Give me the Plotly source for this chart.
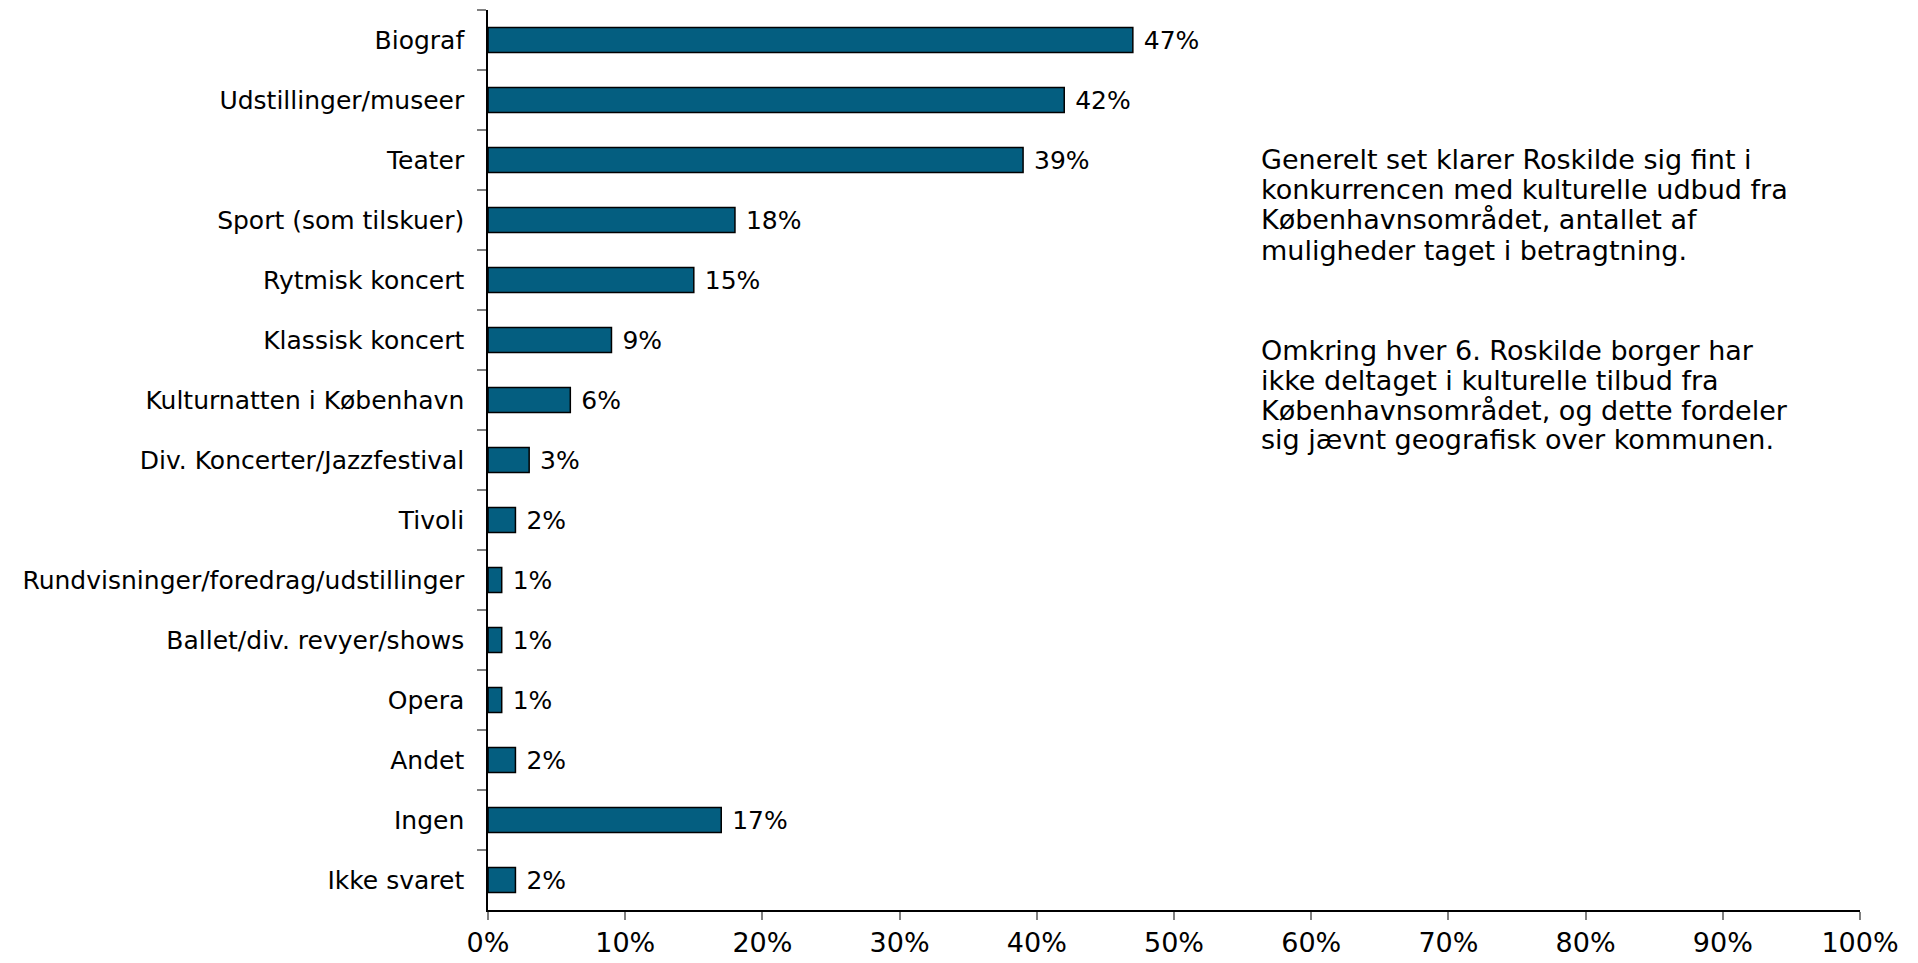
import plotly.graph_objects as go

# Survey answers (share of respondents, %)
categories = [
    "Biograf", "Udstillinger/museer", "Teater", "Sport (som tilskuer)",
    "Rytmisk koncert", "Klassisk koncert", "Kulturnatten i København",
    "Div. Koncerter/Jazzfestival", "Tivoli", "Rundvisninger/foredrag/udstillinger",
    "Ballet/div. revyer/shows", "Opera", "Andet", "Ingen", "Ikke svaret",
]
values = [47, 42, 39, 18, 15, 9, 6, 3, 2, 1, 1, 1, 2, 17, 2]
x_ticks = list(range(0, 101, 10))

note_lines_1 = [
    "Generelt set klarer Roskilde sig fint i",
    "konkurrencen med kulturelle udbud fra",
    "Københavnsområdet, antallet af",
    "muligheder taget i betragtning.",
]
note_lines_2 = [
    "Omkring hver 6. Roskilde borger har",
    "ikke deltaget i kulturelle tilbud fra",
    "Københavnsområdet, og dette fordeler",
    "sig jævnt geografisk over kommunen.",
]

FONT = "Verdana, DejaVu Sans, sans-serif"

fig = go.Figure()
fig.add_trace(go.Bar(
    x=values,
    y=categories,
    orientation="h",
    marker=dict(color="#045e80", line=dict(color="black", width=1.5)),
    text=[f" {v}%" for v in values],
    textposition="outside",
    constraintext="none",
    textfont=dict(size=25, color="black", family=FONT),
    cliponaxis=False,
    width=0.42,
))

# text block on the right, one annotation per line (Excel-like line spacing)
annotations = []
for i, line in enumerate(note_lines_1):
    annotations.append(dict(text=line, x=0.562, y=(910 - (160 + 30 * i)) / 900))
for i, line in enumerate(note_lines_2):
    annotations.append(dict(text=line, x=0.562, y=(910 - (350 + 30 * i)) / 900))
for a in annotations:
    a.update(xref="paper", yref="paper", xanchor="left", yanchor="middle",
             showarrow=False, font=dict(size=27, family=FONT, color="black"))

# page body has an 8px margin, so margins are shifted by that amount
fig.update_layout(
    width=1918, height=963,
    plot_bgcolor="white", paper_bgcolor="white",
    margin=dict(l=480, r=66, t=2, b=61),
    showlegend=False,
    font=dict(family=FONT, size=25, color="black"),
    xaxis=dict(
        range=[0, 100],
        tickvals=x_ticks,
        ticktext=[f"{t}%" for t in x_ticks],
        showgrid=False, zeroline=False,
        showline=True, linecolor="black", linewidth=1.5,
        ticks="outside", ticklen=8, tickcolor="#808080", tickwidth=1.5,
        tickfont=dict(size=27),
        fixedrange=True,
    ),
    yaxis=dict(
        autorange="reversed",
        showgrid=False, zeroline=False,
        showline=True, linecolor="black", linewidth=1.5,
        ticks="outside", ticklen=9, tickcolor="#808080", tickwidth=1.5,
        tickson="boundaries",
        tickfont=dict(size=25),
        ticklabelstandoff=17,
        fixedrange=True,
    ),
    annotations=annotations,
)

fig.write_html("out.html")
